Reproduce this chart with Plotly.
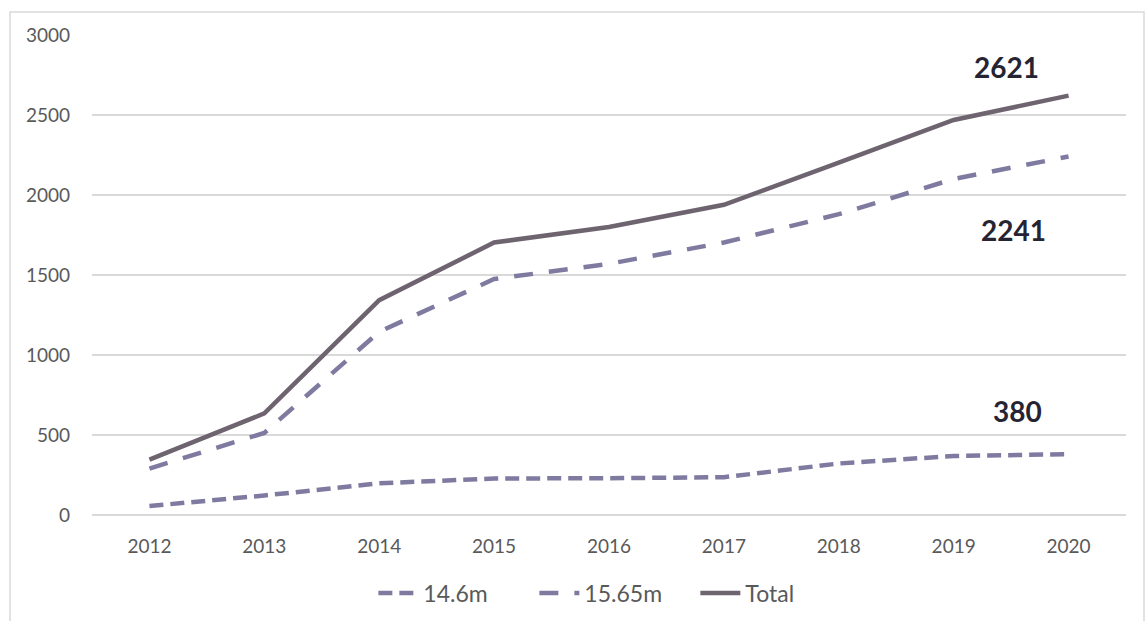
import plotly.graph_objects as go

years = ["2012", "2013", "2014", "2015", "2016", "2017", "2018", "2019", "2020"]
len_146 = [56, 122, 198, 228, 230, 236, 322, 369, 380]
len_1565 = [290, 513, 1145, 1475, 1570, 1703, 1880, 2100, 2241]
total = [346, 635, 1343, 1703, 1800, 1939, 2202, 2469, 2621]

y_ticks = [0, 500, 1000, 1500, 2000, 2500, 3000]

FONT = "Lato"
SERIES_COLOR = "#7F7BA0"
TOTAL_COLOR = "#6E6470"
LABEL_COLOR = "#262433"
GRID = "#D9D9D9"

fig = go.Figure()
fig.add_trace(go.Scatter(
    x=years, y=len_146, name="14.6m", mode="lines",
    line=dict(color=SERIES_COLOR, width=4.5, dash="14px,7px"),
))
fig.add_trace(go.Scatter(
    x=years, y=len_1565, name="15.65m", mode="lines",
    line=dict(color=SERIES_COLOR, width=4.5, dash="19px,16px"),
))
fig.add_trace(go.Scatter(
    x=years, y=total, name="Total", mode="lines",
    line=dict(color=TOTAL_COLOR, width=4.5),
))

# end-of-series value labels (x given as category index of the last year)
last = len(years) - 1
label_offsets = [
    (total, -62, 29),
    (len_1565, -55, -74),
    (len_146, -51, 43),
]
for series, dx, dy in label_offsets:
    fig.add_annotation(
        x=last, y=series[-1], text=f"<b>{series[-1]}</b>",
        showarrow=False, xshift=dx, yshift=dy,
        font=dict(family=FONT, size=28, color=LABEL_COLOR),
    )

# outer chart frame
L, R, T, B = 92, 19, 35, 106
W, H = 1145, 621
pw, ph = W - L - R, H - T - B
def px_x(p):
    return (p - L) / pw
def px_y(p):
    return (H - B - p) / ph
fig.add_shape(
    type="rect", xref="paper", yref="paper",
    x0=px_x(10), x1=px_x(1144), y0=px_y(640), y1=px_y(12),
    line=dict(color=GRID, width=1.5), fillcolor="rgba(0,0,0,0)", layer="below",
)

fig.update_layout(
    width=W, height=H,
    margin=dict(l=L, r=R, t=T, b=B, autoexpand=False),
    paper_bgcolor="white", plot_bgcolor="white",
    font=dict(family=FONT, color="#595959"),
    showlegend=True,
    legend=dict(
        orientation="h", xref="container", x=0.537, xanchor="center",
        yref="container", y=0.045, yanchor="middle",
        font=dict(family=FONT, size=23, color="#595959"),
        itemwidth=40, traceorder="normal",
        entrywidth=106, entrywidthmode="pixels",
    ),
)
fig.update_xaxes(
    type="category", range=[-0.5, last + 0.5],
    showgrid=False, showline=False, zeroline=False,
    ticks="", tickfont=dict(family=FONT, size=19, color="#595959"),
    ticklabelstandoff=18,
)
fig.update_yaxes(
    range=[0, 3000], tickvals=y_ticks, showgrid=True, gridcolor=GRID, gridwidth=1.5,
    zeroline=True, zerolinecolor=GRID, zerolinewidth=1.5,
    showline=False, ticks="",
    tickfont=dict(family=FONT, size=19, color="#595959"),
    ticklabelstandoff=21,
)

fig.write_html("out.html")
